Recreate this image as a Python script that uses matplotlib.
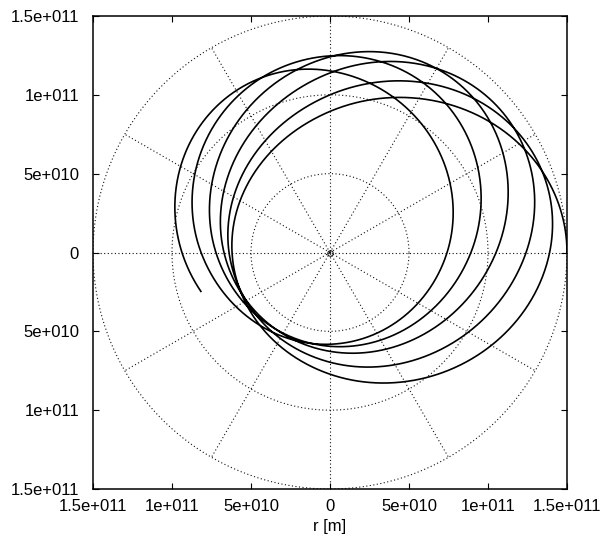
import numpy as np
import matplotlib
matplotlib.use("Agg")
import matplotlib.pyplot as plt

# Orbit radius sampled every quarter turn (polar angle in degrees, radius in units of 1e10 m)
turn_angle_deg = [0, 90, 180, 270, 360, 450, 540, 630, 720, 810, 900, 990,
                  1080, 1170, 1260, 1350, 1440, 1530, 1620, 1710, 1800, 1890, 1980]
radius_1e10 = [15.0, 8.95, 6.20, 7.72, 13.90, 10.0, 6.39, 6.96, 12.41, 11.39, 6.71, 6.27,
               10.51, 12.41, 7.22, 5.95, 8.92, 12.47, 8.16, 5.82, 7.41, 11.52, 9.37]
end_angle_deg = 1996.8

tick_values = [-1.5e11, -1e11, -5e10, 0, 5e10, 1e11, 1.5e11]
tick_labels = ["1.5e+011", "1e+011", "5e+010", "0", "5e+010", "1e+011", "1.5e+011"]
grid_radii = [5e10, 1e11, 1.5e11]
spoke_angles_deg = [30, 60, 120, 150, 210, 240, 300, 330]

plt.rcParams["font.family"] = ["Liberation Sans", "DejaVu Sans"]

# --- trajectory: 1/r is locally a conic (A + B cos t + C sin t) about each sample
th = np.radians(turn_angle_deg)
u = 1.0 / (np.array(radius_1e10) * 1e10)
n = len(u)
A = np.empty(n); B = np.empty(n); C = np.empty(n)
for k in range(n - 1):
    lo = u[k - 1] if k > 0 else u[k + 1]  # launched tangentially: turning point at start
    hi = u[k + 1]
    a0 = 0.5 * (lo + hi)
    ca = u[k] - a0
    sb = 0.5 * (hi - lo)
    A[k] = a0
    B[k] = ca * np.cos(th[k]) - sb * np.sin(th[k])
    C[k] = ca * np.sin(th[k]) + sb * np.cos(th[k])
A[-1], B[-1], C[-1] = A[-2], B[-2], C[-2]

t = np.radians(np.linspace(0, end_angle_deg, 6000))
step = np.radians(90.0)
k = np.clip((t // step).astype(int), 0, n - 2)
w = (t - th[k]) / step


def conic(idx):
    return A[idx] + B[idx] * np.cos(t) + C[idx] * np.sin(t)


uu = (1 - w) * conic(k) + w * conic(k + 1)
r = 1.0 / uu
x = r * np.cos(t)
y = r * np.sin(t)

# --- figure
fig = plt.figure(figsize=(6.06, 5.44), dpi=100)
ax = fig.add_axes([93 / 606, 1 - 489 / 544, 474 / 606, 473 / 544])

grid_kw = dict(color="#111111", lw=0.8, ls=(0, (1, 2.2)), zorder=1)
phi = np.linspace(0, 2 * np.pi, 721)
for rg in grid_radii:
    ax.plot(rg * np.cos(phi), rg * np.sin(phi), **grid_kw)
rmax = grid_radii[-1]
for ang in spoke_angles_deg:
    a = np.radians(ang)
    ax.plot([0, rmax * np.cos(a)], [0, rmax * np.sin(a)], **grid_kw)
ax.axhline(0, **grid_kw)
ax.axvline(0, **grid_kw)
ax.plot([0], [0], "o", ms=4, mfc="none", mec="#111111", mew=0.7, zorder=2)

ax.plot(x, y, color="black", lw=1.2, zorder=3)

ax.set_xlim(tick_values[0], tick_values[-1])
ax.set_ylim(tick_values[0], tick_values[-1])
ax.set_xticks(tick_values)
ax.set_yticks(tick_values)
ax.set_xticklabels(tick_labels)
ax.set_yticklabels(tick_labels)
ax.tick_params(direction="in", top=True, right=True, length=4.5, width=0.8,
               labelsize=12, colors="black")
ax.tick_params(axis="x", pad=7.5)
ax.tick_params(axis="y", pad=10)
for sp in ax.spines.values():
    sp.set_linewidth(1.1)
ax.set_xlabel("r [m]", fontsize=12, labelpad=3)

fig.savefig("out.png", dpi=100)
